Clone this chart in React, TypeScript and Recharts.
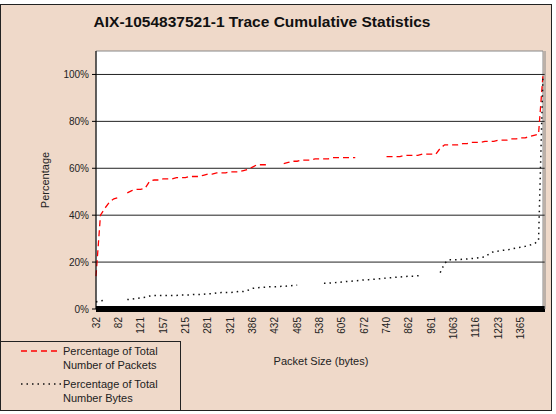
import {
  LineChart,
  Line,
  XAxis,
  YAxis,
  ReferenceLine,
  ReferenceArea,
} from "recharts";

// packet sizes (bytes) along the category axis
const SIZES = [
  "32", "40", "46", "54", "64", "82", "90", "98", "106", "114",
  "121", "128", "136", "144", "150", "157", "168", "180", "192", "204",
  "215", "228", "240", "254", "268", "281", "289", "297", "305", "313",
  "321", "334", "347", "360", "373", "386", "395", "404", "413", "422",
  "432", "443", "454", "464", "474", "485", "495", "506", "516", "527",
  "538", "551", "565", "578", "592", "605", "618", "632", "645", "659",
  "672", "686", "699", "713", "726", "740", "764", "789", "813", "838",
  "862", "882", "902", "922", "942", "961", "981", "1002", "1022", "1043",
  "1063", "1074", "1084", "1095", "1105", "1116", "1137", "1159", "1180", "1202",
  "1223", "1251", "1280", "1308", "1337", "1365", "1392", "1419", "1446", "1473",
  "1500",
];

// % of total number of packets
const PACKETS_PCT = [
  14, 40, 43, 45.5, 47, 47.5, null, 49.5, 50.5, 51,
  51, 51.5, 54.5, 55, 55, 55.5, 55.5, 55.5, 56, 56,
  56, 56.5, 56.5, 56.5, 57, 57.5, 57.5, 58, 58, 58,
  58.5, 58.5, 58.5, 59, 59.5, 60.5, 61.5, 61.5, 61.5, null,
  null, null, 62, 62.5, 63, 63, 63.5, 63.5, 63.5, 64,
  64, 64, 64, 64.5, 64.5, 64.5, 64.5, 64.5, 64.5, null,
  null, null, null, null, null, 65, 65, 65, 65, 65.5,
  65.5, 65.5, 65.5, 66, 66, 66, 66, 68.5, 70, 70,
  70, 70, 70.5, 70.5, 71, 71, 71, 71.5, 71.5, 71.5,
  72, 72, 72, 72.5, 72.5, 73, 73, 73.5, 74, 74.5,
  100,
];

// % of total number of bytes
const BYTES_PCT = [
  3, 3.5, 3.8, null, null, null, null, 4, 4.2, 4.5,
  4.8, 5, 5.5, 5.8, 5.8, 5.8, 5.8, 5.8, 5.8, 6,
  6, 6, 6.2, 6.2, 6.3, 6.5, 6.5, 6.8, 7, 7,
  7, 7.2, 7.5, 7.5, 8, 8.8, 9, 9.2, 9.3, 9.5,
  9.5, 9.6, 9.7, 9.8, 10, 10.2, null, null, null, null,
  null, 11, 11, 11.2, 11.3, 11.5, 11.7, 11.8, 12, 12.2,
  12.4, 12.5, 12.7, 12.8, 13, 13.2, 13.3, 13.5, 13.6, 13.8,
  14, 14, 14.2, 14.3, null, null, null, 15.5, 19.5, 21,
  21, 21, 21.2, 21.3, 21.5, 21.7, 22, 22.2, 23.5, 24.5,
  24.7, 25, 25.2, 25.6, 26, 26.3, 26.7, 27.2, 27.8, 29,
  100,
];

const TICK_LABELS = [
  "32", "82", "121", "157", "215", "281", "321", "386", "432", "485",
  "538", "605", "672", "740", "862", "961", "1063", "1116", "1223", "1365",
];

const Y_TICKS = [0, 20, 40, 60, 80, 100];

const data = SIZES.map((size, i) => ({
  size,
  packets: PACKETS_PCT[i],
  bytes: BYTES_PCT[i],
}));

const FONT = "'Liberation Sans', Arial, sans-serif";
const BG = "#EFD9C9";

const XTick = ({ x, y, payload }: any) => (
  <text
    x={x}
    y={y}
    transform={`rotate(-90 ${x} ${y})`}
    textAnchor="end"
    dominantBaseline="central"
    fontSize={10}
    fontFamily={FONT}
    fill="#222"
  >
    {payload.value}
  </text>
);

export default function App() {
  return (
    <div
      style={{
        position: "absolute",
        left: 0,
        top: 0,
        width: 556,
        height: 414,
        backgroundColor: "#fff",
        fontFamily: FONT,
        color: "#222",
      }}
    >
      <div
        style={{
          position: "absolute",
          left: 0,
          top: 4,
          width: 550,
          height: 405,
          backgroundColor: BG,
          border: "1px solid #222",
        }}
      />
      <div style={{ position: "absolute", left: 0, top: 0 }}>
        <LineChart
          width={556}
          height={414}
          data={data}
          margin={{ top: 51, right: 0, bottom: 0, left: 0 }}
        >
          <ReferenceArea
            y1={0}
            y2={110}
            fill="#fff"
            fillOpacity={1}
            stroke="#888"
          />
          {Y_TICKS.slice(1).map((v) => (
            <ReferenceLine key={v} y={v} stroke="#222" />
          ))}
          <XAxis
            dataKey="size"
            ticks={TICK_LABELS}
            interval={0}
            height={105}
            tickLine={false}
            tick={<XTick />}
            axisLine={{ stroke: "#000", strokeWidth: 6 }}
            padding={{ left: 0, right: 2 }}
          />
          <YAxis
            width={96}
            domain={[0, 110]}
            ticks={Y_TICKS}
            tickFormatter={(v) => `${v}%`}
            tickSize={4}
            tickMargin={3}
            tick={{ fontSize: 10, fill: "#222", fontFamily: FONT }}
            axisLine={{ stroke: "#000" }}
            tickLine={{ stroke: "#000" }}
            allowDataOverflow
          />
          <YAxis
            yAxisId="right"
            orientation="right"
            width={11}
            domain={[0, 110]}
            tick={false}
            tickLine={false}
            axisLine={{ stroke: "#888" }}
          />
          <Line
            type="linear"
            dataKey="packets"
            stroke="#FF0000"
            strokeWidth={1.3}
            strokeDasharray="6 4"
            dot={false}
            connectNulls={false}
            isAnimationActive={false}
          />
          <Line
            type="linear"
            dataKey="bytes"
            stroke="#111"
            strokeWidth={1.5}
            strokeDasharray="1.5 4"
            dot={false}
            connectNulls={false}
            isAnimationActive={false}
          />
        </LineChart>
      </div>

      <div
        style={{
          position: "absolute",
          left: 0,
          width: 524,
          top: 13,
          textAlign: "center",
          fontSize: 15.5,
          fontWeight: "bold",
          color: "#111",
        }}
      >
        AIX-1054837521-1 Trace Cumulative Statistics
      </div>

      <div
        style={{
          position: "absolute",
          left: 45,
          top: 180,
          transform: "translate(-50%, -50%) rotate(-90deg)",
          fontSize: 11,
          whiteSpace: "nowrap",
        }}
      >
        Percentage
      </div>

      <div
        style={{
          position: "absolute",
          left: 321,
          top: 361,
          transform: "translate(-50%, -50%)",
          fontSize: 11,
          whiteSpace: "nowrap",
        }}
      >
        Packet Size (bytes)
      </div>

      <div
        style={{
          position: "absolute",
          left: 0,
          top: 341,
          width: 179,
          height: 68,
          border: "1px solid #222",
          fontSize: 11,
          lineHeight: "14px",
        }}
      >
        <svg
          width={44}
          height={68}
          style={{ position: "absolute", left: 18, top: 0 }}
        >
          <line
            x1={2}
            y1={9}
            x2={42}
            y2={9}
            stroke="#FF0000"
            strokeWidth={1.3}
            strokeDasharray="6 4"
          />
          <line
            x1={2}
            y1={42}
            x2={42}
            y2={42}
            stroke="#111"
            strokeWidth={1.5}
            strokeDasharray="1.5 4"
          />
        </svg>
        <div style={{ position: "absolute", left: 62, top: 2 }}>
          Percentage of Total
          <br />
          Number of Packets
        </div>
        <div style={{ position: "absolute", left: 62, top: 35 }}>
          Percentage of Total
          <br />
          Number Bytes
        </div>
      </div>
    </div>
  );
}
